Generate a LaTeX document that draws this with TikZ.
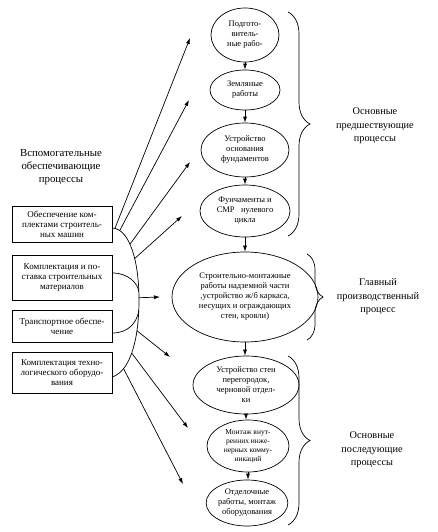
\documentclass[tikz,border=0pt]{standalone}
\usepackage{fontspec}
\setmainfont{Liberation Serif}
\usetikzlibrary{shapes.geometric,arrows.meta,decorations.pathreplacing}
\tikzset{
  proc/.style={draw,ellipse,line width=0.7pt,inner sep=0pt,align=center,
    font=\fontsize{8.5}{10}\selectfont},
  aux/.style={draw,rectangle,line width=0.7pt,inner sep=0pt,align=center,
    minimum width=100pt,font=\fontsize{9}{10}\selectfont},
  lbl/.style={align=center,font=\fontsize{10.3}{13.5}\selectfont},
  conn/.style={line width=0.7pt,-{Latex[length=6pt,width=4pt]}},
  ln/.style={line width=0.7pt},
  brc/.style={line width=0.7pt,decorate,decoration={brace,amplitude=#1}}
}
\begin{document}
\begin{tikzpicture}[x=1pt,y=-1pt]
\useasboundingbox (0,0) rectangle (437,532);
% main column
\node[proc,minimum width=68pt,minimum height=54pt] (e1) at (245,35) {Подгото-\\витель-\\ные рабо-};
\node[proc,minimum width=70pt,minimum height=40pt] (e2) at (245,90) {Земляные\\работы};
\node[proc,minimum width=88pt,minimum height=54pt] (e3) at (245,150) {Устройство\\основания\\фундаментов};
\node[proc,minimum width=90pt,minimum height=52pt] (e4) at (245,211) {Фунчаменты и\\СМР\ \ \ нулевого\\цикла};
\node[proc,minimum width=146pt,minimum height=90pt] (e5) at (245,297) {Строительно-монтажные\\работы надземной части\\,устройство ж/б каркаса,\\несущих и ограждающих\\стен, кровли)};
\node[proc,minimum width=106pt,minimum height=58pt] (e6) at (246,385) {Устройство стен\\перегородок,\\черновой отдел-\\ки};
\node[proc,minimum width=82pt,minimum height=52pt,font=\fontsize{7.5}{9}\selectfont] (e7) at (248,446) {Монтаж внут-\\ренних инже-\\нерных комму-\\никаций};
\node[proc,minimum width=80pt,minimum height=46pt] (e8) at (247,503) {Отделочные\\работы, монтаж\\оборудования};
\foreach \a/\b in {e1/e2,e2/e3,e3/e4,e4/e5,e5/e6,e6/e7,e7/e8}
  \draw[conn] (\a.south) -- (\a.south |- \b.north);
% braces
\coordinate (b1t) at (288,12);  \coordinate (b1b) at (288,236);
\coordinate (b2t) at (307,254); \coordinate (b2b) at (307,340);
\coordinate (b3t) at (288,356); \coordinate (b3b) at (288,525);
\draw[brc=22pt] (b1t) -- (b1b);
\draw[brc=16pt] (b2t) -- (b2b);
\draw[brc=22pt] (b3t) -- (b3b);
\node[lbl] (l1) at (375,126) {Основные\\предшествующие\\процессы};
\node[lbl] (l2) at (378,297) {Главный\\производственный\\процесс};
\node[lbl] (l3) at (372,450) {Основные\\последующие\\процессы};
% left side
\node[lbl,font=\fontsize{10.8}{13}\selectfont] (l0) at (61,167) {Вспомогательные\\обеспечивающие\\процессы};
\node[aux,minimum height=36pt] (x1) at (62,224) {Обеспечение ком-\\плектами строитель-\\ных машин};
\node[aux,minimum height=45pt] (x2) at (62,277.5) {Комплектация и по-\\ставка строительных\\материалов};
\node[aux,minimum height=32pt] (x3) at (62,326) {Транспортное обеспе-\\чение};
\node[aux,minimum height=41pt] (x4) at (62,372.5) {Комплектация техно-\\логического оборудо-\\вания};
% big arc
\draw[ln] (x1.east |- 0,228) .. controls (130,229) and (139,262) .. (139,300)
   coordinate[pos=0.05] (s1) coordinate[pos=0.15] (s2) coordinate[pos=0.42] (s3)
   coordinate[pos=0.6] (s4) coordinate[pos=0.93] (j2) coordinate[pos=0.98] (s5)
   .. controls (139,335) and (132,370) .. (x4.east |- 0,377)
   coordinate[pos=0.1] (j3) coordinate[pos=0.3] (s6) coordinate[pos=0.55] (s7)
   coordinate[pos=0.78] (s8);
\draw[ln] (x2.east |- 0,273) .. controls (128,273) and (138,283) .. (j2);
\draw[ln] (x3.east |- 0,333) .. controls (128,333) and (137,323) .. (j3);
% arrow targets
\coordinate (t1) at (190,38);
\coordinate (t2) at (189,100);
\coordinate (t3) at (190,162);
\coordinate (t4) at (182,216);
\coordinate (t5) at (160,297);
\coordinate (t6) at (170,357);
\coordinate (t7) at (188,428);
\coordinate (t8) at (183,484);
\foreach \i in {1,...,8}
  \draw[conn] (s\i) -- (t\i);
\end{tikzpicture}
\end{document}
